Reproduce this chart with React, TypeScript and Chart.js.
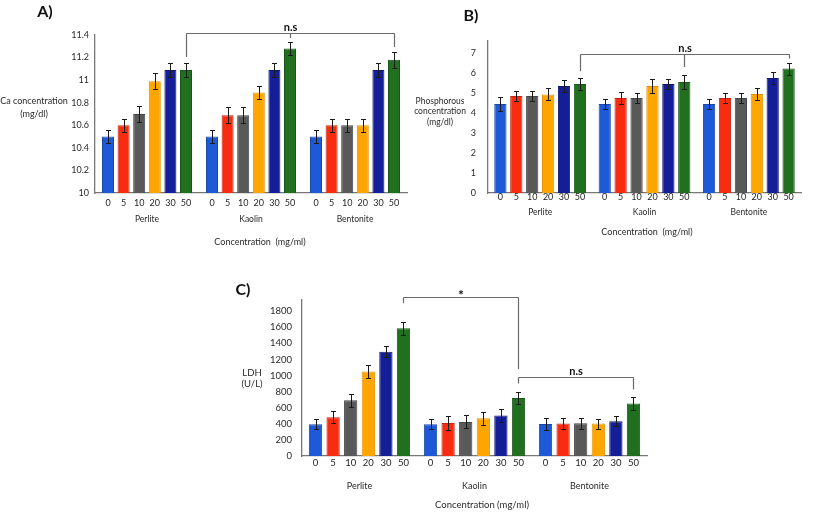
import React, { useEffect, useRef } from 'react';
import { Chart, registerables } from 'chart.js';

Chart.register(...registerables);

const W = 813;
const H = 515;
const FONT = 'Lato, "Open Sans", sans-serif';

// shared categories
const concentrations = ['0', '5', '10', '20', '30', '50'];
const materials = ['Perlite', 'Kaolin', 'Bentonite'];
const barColors = ['#1e5ad7', '#f82c10', '#595959', '#ffa500', '#141e96', '#21701f'];
const barEdges = ['#1a47a8', '#c42410', '#444444', '#e09000', '#0e1670', '#18561a'];

// Panel A: Ca concentration (mg/dl)
const caPerlite = [10.5, 10.6, 10.7, 10.99, 11.09, 11.09];
const caKaolin = [10.5, 10.69, 10.69, 10.89, 11.09, 11.28];
const caBentonite = [10.5, 10.6, 10.6, 10.6, 11.09, 11.18];
const caErrPerlite = [0.06, 0.06, 0.07, 0.07, 0.06, 0.06];
const caErrKaolin = [0.06, 0.07, 0.07, 0.06, 0.06, 0.06];
const caErrBentonite = [0.06, 0.06, 0.06, 0.06, 0.06, 0.07];

// Panel B: Phosphorous concentration (mg/dl)
const pPerlite = [4.45, 4.85, 4.85, 4.93, 5.35, 5.45];
const pKaolin = [4.45, 4.75, 4.75, 5.35, 5.45, 5.55];
const pBentonite = [4.45, 4.75, 4.75, 4.95, 5.75, 6.22];
const pErrPerlite = [0.35, 0.25, 0.25, 0.3, 0.3, 0.28];
const pErrKaolin = [0.25, 0.3, 0.27, 0.35, 0.27, 0.33];
const pErrBentonite = [0.25, 0.27, 0.27, 0.3, 0.3, 0.3];

// Panel C: LDH (U/L)
const ldhPerlite = [395, 482, 694, 1052, 1297, 1588];
const ldhKaolin = [395, 411, 424, 470, 504, 720];
const ldhBentonite = [399, 403, 407, 403, 433, 653];
const ldhErrPerlite = [65, 75, 80, 80, 70, 80];
const ldhErrKaolin = [60, 85, 80, 80, 80, 70];
const ldhErrBentonite = [70, 70, 70, 62, 66, 78];

// significance brackets (group index, concentration index, leg end value)
const caBrackets = [
  { label: 'n.s', level: 11.42, legs: [{ g: 0, c: 5, end: 11.205 }, { g: 1, c: 5, end: 11.373 }, { g: 2, c: 5, end: 11.294 }] },
];
const pBrackets = [
  { label: 'n.s', level: 6.93, legs: [{ g: 0, c: 5, end: 6.085 }, { g: 1, c: 5, end: 6.3 }, { g: 2, c: 5, end: 6.73 }] },
];
const ldhBrackets = [
  { label: '*', level: 1982, legs: [{ g: 0, c: 5, end: 1900 }, { g: 1, c: 5, end: 1081 }] },
  { label: 'n.s', level: 985, legs: [{ g: 1, c: 5, end: 902 }, { g: 2, c: 5, end: 828 }] },
];

type Txt = { text: string; x: number; y: number };
type Bracket = { label: string; level: number; legs: { g: number; c: number; end: number }[] };
type PanelSpec = {
  values: number[][];
  errors: number[][];
  yMin: number;
  yMax: number;
  yStep: number;
  fmt: (v: number) => string;
  area: { left: number; right: number; top: number; bottom: number };
  barPct: number;
  catPct: number;
  tickPad: number;
  tickSize: number;
  title: Txt;
  yTitle: Txt[];
  yTitleSize: number;
  concY: number;
  groupY: number;
  labelSize: number;
  groupSize: number;
  xTitle: Txt;
  xTitleSize: number;
  brackets: Bracket[];
};

const panels: PanelSpec[] = [
  {
    values: [caPerlite, caKaolin, caBentonite],
    errors: [caErrPerlite, caErrKaolin, caErrBentonite],
    yMin: 10, yMax: 11.4, yStep: 0.2,
    fmt: (v) => String(Math.round(v * 10) / 10),
    area: { left: 95, right: 407, top: 35, bottom: 193 },
    barPct: 0.77, catPct: 0.9, tickPad: 6, tickSize: 9,
    title: { text: 'A)', x: 45, y: 12 },
    yTitle: [{ text: 'Ca concentration', x: 34, y: 101 }, { text: '(mg/dl)', x: 34, y: 114 }],
    yTitleSize: 9,
    concY: 203, groupY: 219, labelSize: 9, groupSize: 8.5,
    xTitle: { text: 'Concentration  (mg/ml)', x: 260, y: 242 }, xTitleSize: 9,
    brackets: caBrackets,
  },
  {
    values: [pPerlite, pKaolin, pBentonite],
    errors: [pErrPerlite, pErrKaolin, pErrBentonite],
    yMin: 0, yMax: 7.6, yStep: 1,
    fmt: (v) => String(v),
    area: { left: 488, right: 801, top: 41, bottom: 193 },
    barPct: 0.77, catPct: 0.915, tickPad: 12, tickSize: 9,
    title: { text: 'B)', x: 471, y: 16 },
    yTitle: [
      { text: 'Phosphorous', x: 440, y: 101.5 },
      { text: 'concentration', x: 440, y: 111.5 },
      { text: '(mg/dl)', x: 440, y: 122 },
    ],
    yTitleSize: 8.5,
    concY: 197, groupY: 212.5, labelSize: 9, groupSize: 8.5,
    xTitle: { text: 'Concentration  (mg/ml)', x: 647, y: 232 }, xTitleSize: 9,
    brackets: pBrackets,
  },
  {
    values: [ldhPerlite, ldhKaolin, ldhBentonite],
    errors: [ldhErrPerlite, ldhErrKaolin, ldhErrBentonite],
    yMin: 0, yMax: 1940, yStep: 200,
    fmt: (v) => String(v),
    area: { left: 302, right: 647, top: 300, bottom: 456 },
    barPct: 0.755, catPct: 0.918, tickPad: 10, tickSize: 9.5,
    title: { text: 'C)', x: 243, y: 290 },
    yTitle: [{ text: 'LDH', x: 252, y: 373 }, { text: '(U/L)', x: 252, y: 384 }],
    yTitleSize: 9.5,
    concY: 463, groupY: 486, labelSize: 9.5, groupSize: 9,
    xTitle: { text: 'Concentration (mg/ml)', x: 482, y: 505 }, xTitleSize: 9.5,
    brackets: ldhBrackets,
  },
];

function decorPlugin(p: PanelSpec) {
  return {
    id: 'decor',
    afterDatasetsDraw(chart: any) {
      const ctx = chart.ctx as CanvasRenderingContext2D;
      const ys = chart.scales.y;
      ctx.save();
      ctx.strokeStyle = '#1a1a1a';
      ctx.lineWidth = 1;
      chart.data.datasets.forEach((ds: any, i: number) => {
        const meta = chart.getDatasetMeta(i);
        meta.data.forEach((bar: any, j: number) => {
          const v = ds.data[j] as number;
          const e = p.errors[j][i];
          const yt = Math.round(ys.getPixelForValue(v + e)) + 0.5;
          const yb = Math.round(ys.getPixelForValue(v - e)) + 0.5;
          const x = Math.round(bar.x) + 0.5;
          ctx.beginPath();
          ctx.moveTo(x, yt);
          ctx.lineTo(x, yb);
          ctx.moveTo(x - 2.5, yt);
          ctx.lineTo(x + 2.5, yt);
          ctx.moveTo(x - 2.5, yb);
          ctx.lineTo(x + 2.5, yb);
          ctx.stroke();
        });
      });
      ctx.restore();
    },
    afterDraw(chart: any) {
      const ctx = chart.ctx as CanvasRenderingContext2D;
      const ys = chart.scales.y;
      const xs = chart.scales.x;
      ctx.save();
      ctx.textAlign = 'center';
      ctx.textBaseline = 'middle';
      // panel letter
      ctx.fillStyle = '#111';
      ctx.font = `bold 16px ${FONT}`;
      ctx.fillText(p.title.text, p.title.x, p.title.y);
      // y title
      ctx.fillStyle = '#2a2a2a';
      ctx.font = `${p.yTitleSize}px ${FONT}`;
      p.yTitle.forEach((t) => ctx.fillText(t.text, t.x, t.y));
      // concentration labels under bars
      ctx.font = `${p.labelSize}px ${FONT}`;
      ctx.fillStyle = '#1e1e1e';
      chart.data.datasets.forEach((ds: any, i: number) => {
        chart.getDatasetMeta(i).data.forEach((bar: any) => {
          ctx.fillText(concentrations[i], bar.x, p.concY);
        });
      });
      // material labels
      ctx.fillStyle = '#2a2a2a';
      ctx.font = `${p.groupSize}px ${FONT}`;
      materials.forEach((m, g) => {
        ctx.fillText(m, xs.getPixelForValue(g), p.groupY);
      });
      // x title
      ctx.font = `${p.xTitleSize}px ${FONT}`;
      ctx.fillText(p.xTitle.text, p.xTitle.x, p.xTitle.y);
      // brackets
      ctx.strokeStyle = '#6a6a6a';
      ctx.lineWidth = 1.2;
      p.brackets.forEach((b) => {
        const lv = Math.round(ys.getPixelForValue(b.level)) + 0.5;
        const xsLeg = b.legs.map((l) => Math.round(chart.getDatasetMeta(l.c).data[l.g].x) + 0.5);
        ctx.beginPath();
        ctx.moveTo(xsLeg[0], lv);
        ctx.lineTo(xsLeg[xsLeg.length - 1], lv);
        b.legs.forEach((l, k) => {
          ctx.moveTo(xsLeg[k], lv);
          ctx.lineTo(xsLeg[k], ys.getPixelForValue(l.end));
        });
        ctx.stroke();
        ctx.fillStyle = '#111';
        const star = b.label === '*';
        ctx.font = `bold ${star ? 14 : 11}px ${FONT}`;
        ctx.textBaseline = 'alphabetic';
        const mx = (xsLeg[0] + xsLeg[xsLeg.length - 1]) / 2;
        ctx.fillText(b.label, mx, lv + (star ? 2 : -3));
        ctx.textBaseline = 'middle';
      });
      ctx.restore();
    },
  };
}

function makeConfig(p: PanelSpec): any {
  const datasets = concentrations.map((c, i) => ({
    label: c,
    data: p.values.map((arr) => arr[i]),
    backgroundColor: barColors[i],
    borderColor: barEdges[i],
    borderWidth: 1,
    barPercentage: p.barPct,
    categoryPercentage: p.catPct,
  }));
  return {
    type: 'bar',
    data: { labels: materials, datasets },
    options: {
      responsive: false,
      animation: false,
      devicePixelRatio: 1,
      layout: { padding: { left: 0, top: p.area.top, right: W - p.area.right, bottom: 0 } },
      plugins: { legend: { display: false }, tooltip: { enabled: false } },
      scales: {
        x: {
          type: 'category',
          grid: { display: false, drawTicks: false },
          border: { display: true, color: '#777', width: 1.3 },
          ticks: { display: false },
          afterFit: (s: any) => { s.height = H - p.area.bottom; },
        },
        y: {
          type: 'linear',
          min: p.yMin,
          max: p.yMax,
          grid: { display: false, drawTicks: false },
          border: { display: true, color: '#777', width: 1.3 },
          ticks: {
            stepSize: p.yStep,
            includeBounds: false,
            padding: p.tickPad,
            color: '#2a2a2a',
            font: { family: FONT, size: p.tickSize },
            callback: (v: any) => p.fmt(Number(v)),
          },
          afterFit: (s: any) => { s.width = p.area.left; },
        },
      },
    },
    plugins: [decorPlugin(p)],
  };
}

function Panel({ spec }: { spec: PanelSpec }) {
  const ref = useRef<HTMLCanvasElement | null>(null);
  useEffect(() => {
    if (!ref.current) return;
    const chart = new Chart(ref.current, makeConfig(spec));
    return () => chart.destroy();
  }, [spec]);
  return (
    <canvas
      ref={ref}
      width={W}
      height={H}
      style={{ position: 'absolute', left: 0, top: 0, width: W, height: H }}
    />
  );
}

export default function App() {
  return (
    <div style={{ position: 'fixed', left: 0, top: 0, width: W, height: H, background: '#fff', overflow: 'hidden' }}>
      {panels.map((p, i) => (
        <Panel key={i} spec={p} />
      ))}
    </div>
  );
}
